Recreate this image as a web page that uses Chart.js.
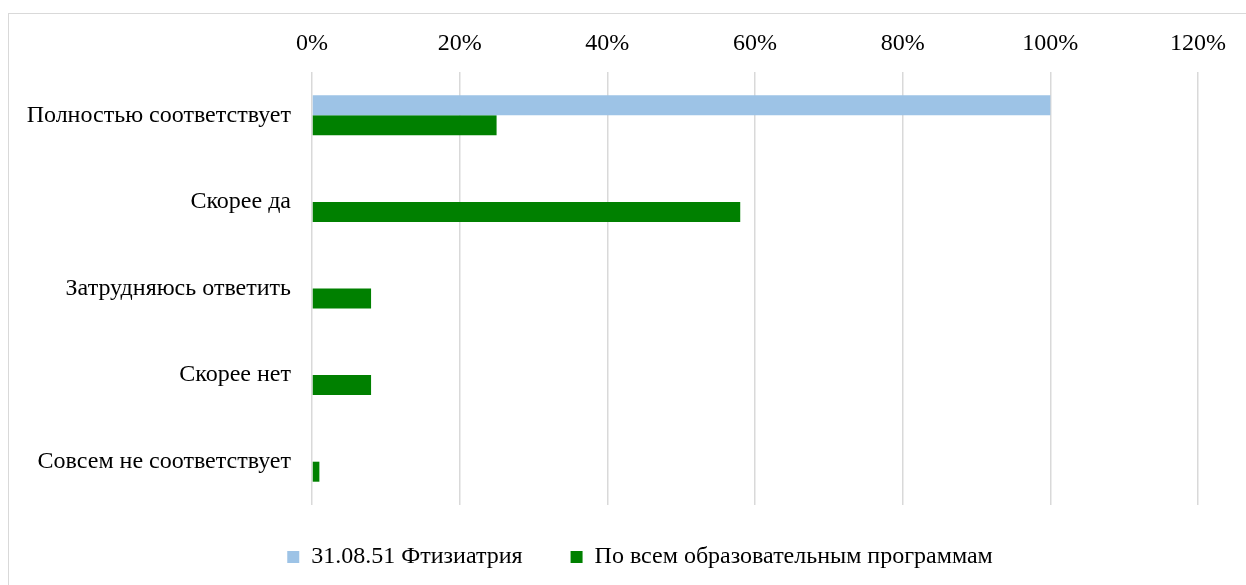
<!DOCTYPE html>
<html>
<head>
<meta charset="utf-8">
<script src="https://cdn.jsdelivr.net/npm/chart.js@4/dist/chart.umd.min.js"></script>
<style>
  body { margin: 0; background: #fff; }
  #frame { position: absolute; left: 8px; top: 13px; width: 1300px; height: 700px; border: 1px solid #d9d9d9; }
  #myChart { position: absolute; left: 0; top: 0; }
</style>
</head>
<body>
<div id="frame"></div>
<canvas id="myChart" width="1246" height="585"></canvas>
<script>
const categories = ["Полностью соответствует", "Скорее да", "Затрудняюсь ответить", "Скорее нет", "Совсем не соответствует"];
const phthisiology = [100, 0, 0, 0, 0];
const allPrograms = [25, 58, 8, 8, 1];
const seriesNames = ["31.08.51 Фтизиатрия", "По всем образовательным программам"];
const xTicks = [0, 20, 40, 60, 80, 100, 120];

const font = { family: "'Liberation Serif', 'Times New Roman', serif", size: 24 };

// legend sits lower than Chart.js would put it, keep plot bottom at 505
const legendPlace = {
  id: "legendPlace",
  beforeLayout(chart) {
    const legend = chart.legend;
    if (legend && !legend._patched) {
      const fit = legend.fit;
      legend.fit = function () { fit.call(this); this.height = 80; };
      legend._patched = true;
    }
  },
  afterLayout(chart) {
    const legend = chart.legend;
    legend.top -= 8;
    legend.bottom -= 8;
    legend.left = 82;
    legend.width = legend.right - legend.left;
  }
};

let ctx = document.getElementById("myChart").getContext("2d");
let chart = new Chart(ctx, {
  type: "bar",
  data: {
    labels: categories,
    datasets: [
      {
        label: seriesNames[0],
        backgroundColor: "#9dc3e6",
        data: phthisiology,
      },
      {
        label: seriesNames[1],
        backgroundColor: "#008000",
        data: allPrograms,
      }
    ],
  },
  options: {
    indexAxis: "y",
    responsive: false,
    animation: false,
    devicePixelRatio: 1,
    layout: { padding: { left: 0, right: 48, top: 0, bottom: 0 } },
    datasets: { bar: { categoryPercentage: 0.462, barPercentage: 1 } },
    scales: {
      x: {
        position: "top",
        min: 0,
        max: 120,
        afterFit(scale) { scale.height = 72; },
        afterBuildTicks(scale) { scale.ticks = xTicks.map(v => ({ value: v })); },
        ticks: {
          color: "#000",
          font: font,
          padding: 14,
          maxRotation: 0,
          callback: v => v + "%",
        },
        grid: { color: "#d9d9d9", lineWidth: 1.5, drawTicks: false },
        border: { display: false },
      },
      y: {
        afterFit(scale) { scale.width = 312; },
        ticks: { color: "#000", font: font, padding: 21 },
        grid: { display: false, drawTicks: false },
        border: { display: false },
      }
    },
    plugins: {
      tooltip: { enabled: false },
      legend: {
        position: "bottom",
        labels: {
          color: "#000",
          font: font,
          boxWidth: 12,
          boxHeight: 12,
          padding: 48,
        }
      }
    }
  },
  plugins: [legendPlace],
});
</script>
</body>
</html>
